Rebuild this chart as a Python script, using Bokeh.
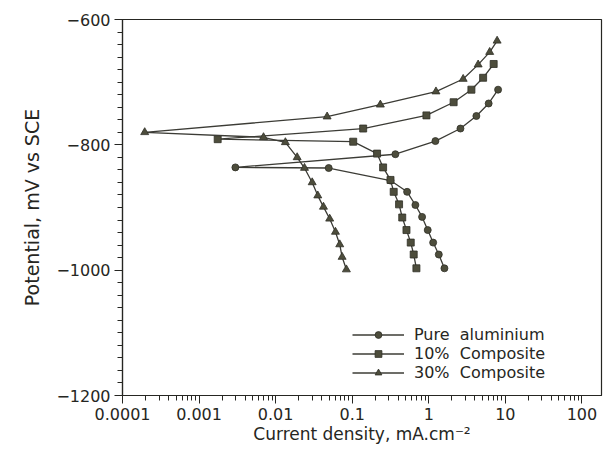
from bokeh.plotting import figure
from bokeh.models import FixedTicker, CustomJSTickFormatter, Range1d, Legend, LegendItem
from bokeh.embed import file_html
from bokeh.resources import INLINE

# ---- data (current density mA/cm^2, potential mV vs SCE) ----
# Pure aluminium: cathodic branch (from Ecorr downwards), then anodic branch
pure_cath_i = [0.00298, 0.0493, 0.316, 0.521, 0.668, 0.817, 0.968, 1.14, 1.35, 1.60]
pure_cath_e = [-836, -837, -857, -875, -896, -915, -936, -956, -975, -997]
pure_anod_i = [0.366, 1.22, 2.59, 4.18, 6.05, 8.03]
pure_anod_e = [-815, -794, -774, -754, -734, -712]

# 10% composite
c10_cath_i = [0.00175, 0.103, 0.211, 0.253, 0.316, 0.348, 0.409, 0.450, 0.511, 0.581, 0.635, 0.689]
c10_cath_e = [-791, -795, -814, -836, -856, -875, -895, -916, -936, -956, -975, -997]
c10_anod_i = [0.139, 0.931, 2.11, 3.60, 5.12, 7.03]
c10_anod_e = [-774, -753, -732, -712, -693, -671]

# 30% composite
c30_cath_i = [0.000195, 0.00694, 0.0134, 0.0191, 0.0238, 0.0300, 0.0355, 0.0421, 0.0508, 0.0604, 0.0687, 0.0738, 0.0839]
c30_cath_e = [-780, -788, -796, -820, -837, -860, -881, -899, -918, -939, -959, -979, -999]
c30_anod_i = [0.0470, 0.233, 1.24, 2.81, 4.41, 6.24, 7.80]
c30_anod_e = [-755, -736, -715, -695, -672, -652, -634]

series_names = ["Pure  aluminium", "10%  Composite", "30%  Composite"]
x_ticks = [1e-4, 1e-3, 1e-2, 1e-1, 1, 10, 100]
y_ticks = [-1200, -1000, -800, -600]

FONT = "DejaVu Sans"
INK = "#262622"
LINE = "#3c3c36"
MARK = "#4d4d3c"

p = figure(width=605, height=452, x_axis_type="log",
           x_range=Range1d(1e-4, 180), y_range=Range1d(-1200, -600),
           output_backend="svg", toolbar_location=None,
           min_border_left=122, min_border_right=4, min_border_top=19, min_border_bottom=57)

p.xgrid.visible = False
p.ygrid.visible = False
p.outline_line_color = INK
p.outline_line_width = 1.2
p.background_fill_color = "white"
p.border_fill_color = "white"

minor_x = [m * 10.0 ** e for e in range(-4, 3) for m in range(2, 10) if m * 10.0 ** e < 180]
p.xaxis.ticker = FixedTicker(ticks=x_ticks, minor_ticks=minor_x)
p.xaxis.formatter = CustomJSTickFormatter(code="return tick.toString();")
p.yaxis.ticker = FixedTicker(ticks=y_ticks, minor_ticks=list(range(-1200, -599, 20)))
p.yaxis.formatter = CustomJSTickFormatter(code="return (tick < 0 ? '\u2212' : '') + Math.abs(tick);")

for ax in (p.xaxis, p.yaxis):
    ax.axis_line_color = INK
    ax.axis_line_width = 1.2
    ax.major_tick_line_color = INK
    ax.minor_tick_line_color = INK
    ax.major_tick_in = 0
    ax.major_tick_out = 8
    ax.minor_tick_in = 0
    ax.minor_tick_out = 5
    ax.major_label_text_font = FONT
    ax.major_label_text_font_size = "16px"
    ax.major_label_text_color = INK
    ax.axis_label_text_font = FONT
    ax.axis_label_text_font_size = "17px"
    ax.axis_label_text_font_style = "normal"
    ax.axis_label_text_color = INK

p.xaxis.axis_label = "Current density, mA.cm\u207b\u00b2"
p.xaxis.major_label_standoff = 4
p.xaxis.axis_label_standoff = 1
p.yaxis.axis_label = "Potential, mV vs SCE"
p.yaxis.axis_label_text_font_size = "19px"
p.yaxis.major_label_standoff = 4
p.yaxis.axis_label_standoff = 10


def curve(ci, ce, ai, ae, marker, size):
    ln = p.line(list(reversed(ci)) + ai, list(reversed(ce)) + ae,
                line_color=LINE, line_width=1.3)
    sc = p.scatter(ci + ai, ce + ae, marker=marker, size=size,
                   fill_color=MARK, line_color="#2e2e26", line_width=0.8)
    return ln, sc


r1 = curve(pure_cath_i, pure_cath_e, pure_anod_i, pure_anod_e, "circle", 7)
r2 = curve(c10_cath_i, c10_cath_e, c10_anod_i, c10_anod_e, "square", 7)
r3 = curve(c30_cath_i, c30_cath_e, c30_anod_i, c30_anod_e, "triangle", 8)

legend = Legend(items=[LegendItem(label=series_names[0], renderers=list(r1)),
                       LegendItem(label=series_names[1], renderers=list(r2)),
                       LegendItem(label=series_names[2], renderers=list(r3))],
                location=(230, 13), orientation="vertical")
legend.background_fill_alpha = 0
legend.border_line_alpha = 0
legend.padding = 0
legend.spacing = 0
legend.margin = 0
legend.glyph_width = 52
legend.glyph_height = 17
legend.label_height = 17
legend.label_standoff = 10
legend.label_text_font = FONT
legend.label_text_font_size = "16px"
legend.label_text_color = INK
p.add_layout(legend, "center")

open("out.html", "w").write(file_html(p, INLINE))
